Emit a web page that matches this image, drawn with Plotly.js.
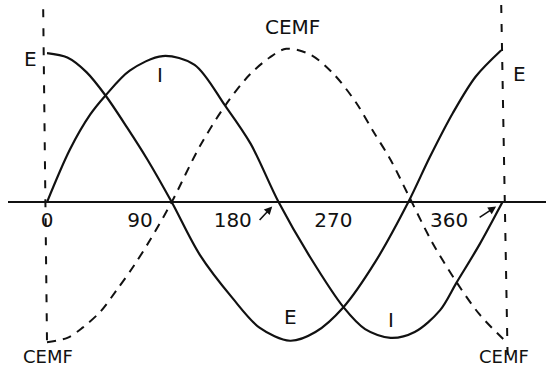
<!DOCTYPE html>
<html>
<head>
<meta charset="utf-8">
<script src="https://cdn.plot.ly/plotly-3.0.1.min.js"></script>
<style>
  html, body { margin: 0; padding: 0; background: #fff; }
  #plot { width: 546px; height: 372px; }
</style>
</head>
<body>
<div id="plot"></div>
<script>
"use strict";

// Values. x in degrees, y in units of the E/I amplitude.
var degE = [0, 16, 31, 46, 63, 79, 98, 120, 146, 167, 191, 211, 233, 258, 284, 301, 319, 337, 357];
var valE = [1.02, 0.99, 0.89, 0.73, 0.51, 0.29, 0, -0.36, -0.66, -0.86, -0.95, -0.89, -0.72, -0.41, 0, 0.31, 0.61, 0.86, 1.04];

var degI = [0, 18, 34, 46, 65, 91, 116, 140, 160, 182, 207, 233, 250, 270, 289, 309, 322, 340, 358];
var valI = [0, 0.36, 0.60, 0.73, 0.90, 1.00, 0.94, 0.66, 0.40, 0, -0.38, -0.72, -0.87, -0.93, -0.89, -0.74, -0.55, -0.29, 0];

var degCemf = [0, 16, 28, 42, 55, 68, 81, 98, 120, 140, 159, 175, 188, 207, 225, 243, 256, 270, 285, 303, 322, 340, 360];
var valCemf = [-0.96, -0.93, -0.86, -0.75, -0.60, -0.44, -0.26, 0, 0.38, 0.66, 0.87, 0.99, 1.05, 1.01, 0.88, 0.68, 0.49, 0.29, 0.03, -0.28, -0.55, -0.77, -0.95];

// dashed verticals at the start and end of the cycle
var leftGuideDeg = [-3, 0];
var leftGuideVal = [1.32, -0.96];
var rightGuideDeg = [357, 362];
var rightGuideVal = [1.35, -1.05];

var tickText = ['0', '90', '180', '270', '360'];
var tickDeg = [0, 73, 146, 225, 316];

var INK = '#111';
var FONT = 'DejaVu Sans';

function solid(x, y) {
  return {x: x, y: y, mode: 'lines', line: {color: INK, width: 2.2, shape: 'spline', smoothing: 0.9}, hoverinfo: 'skip'};
}
function dashed(x, y, dash) {
  return {x: x, y: y, mode: 'lines', line: {color: INK, width: 2, shape: 'spline', smoothing: 0.9, dash: dash}, hoverinfo: 'skip'};
}

var data = [
  dashed(leftGuideDeg, leftGuideVal, '8px,11px'),
  dashed(rightGuideDeg, rightGuideVal, '8px,11px'),
  dashed(degCemf, valCemf, '9px,7px'),
  solid(degE, valE),
  solid(degI, valI),
];

function label(text, x, y, size) {
  return {text: text, x: x, y: y, xref: 'x', yref: 'y', showarrow: false,
          font: {family: FONT, size: size || 20, color: INK}};
}
function pointer(x, y, ax, ay) {
  return {text: '', x: x, y: y, xref: 'x', yref: 'y', showarrow: true,
          ax: ax, ay: ay, arrowhead: 2, arrowsize: 1, arrowwidth: 1.6, arrowcolor: INK};
}

var annotations = [
  label('E', -13, 0.98),
  label('I', 89, 0.87),
  label('CEMF', 193, 1.20),
  label('E', 371, 0.88),
  label('E', 191, -0.79),
  label('I', 270, -0.81),
  label('CEMF', 1, -1.06, 18),
  label('CEMF', 359, -1.06, 18),
  pointer(177, -0.03, -14, 15),
  pointer(353, -0.03, -18, 12),
];

var layout = {
  width: 546,
  height: 372,
  margin: {l: 8, r: 0, t: 0, b: 0, pad: 0},
  paper_bgcolor: '#fff',
  plot_bgcolor: '#fff',
  showlegend: false,
  xaxis: {
    range: [-30.66, 392.2],
    anchor: 'free',
    position: 0.457,
    showline: true,
    linecolor: INK,
    linewidth: 2.5,
    showgrid: false,
    zeroline: false,
    ticks: '',
    tickvals: tickDeg,
    ticktext: tickText,
    tickfont: {family: FONT, size: 20, color: INK},
    fixedrange: true,
  },
  yaxis: {
    range: [-1.164, 1.384],
    visible: false,
    fixedrange: true,
  },
  annotations: annotations,
};

Plotly.newPlot('plot', data, layout, {staticPlot: true});
</script>
</body>
</html>
